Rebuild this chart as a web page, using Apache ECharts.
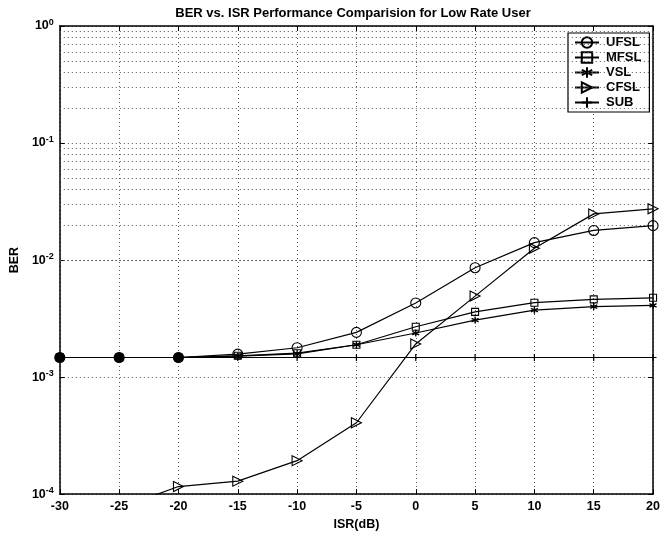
<!DOCTYPE html>
<html>
<head>
<meta charset="utf-8">
<script src="https://cdn.jsdelivr.net/npm/echarts@6/dist/echarts.min.js"></script>
<style>html,body{margin:0;padding:0;background:#fff}#c{width:663px;height:536px}</style>
</head>
<body>
<div id="c"></div>
<script>
const isr  = [-30, -25, -20, -15, -10, -5, 0, 5, 10, 15, 20];
const ufsl = [1.47e-3, 1.47e-3, 1.47e-3, 1.57e-3, 1.78e-3, 2.41e-3, 4.3e-3, 8.6e-3, 1.41e-2, 1.79e-2, 1.97e-2];
const mfsl = [1.47e-3, 1.47e-3, 1.47e-3, 1.52e-3, 1.6e-3, 1.89e-3, 2.69e-3, 3.61e-3, 4.32e-3, 4.61e-3, 4.76e-3];
const vsl  = [1.47e-3, 1.47e-3, 1.47e-3, 1.51e-3, 1.58e-3, 1.89e-3, 2.38e-3, 3.07e-3, 3.73e-3, 4.0e-3, 4.1e-3];
const cfsl = [6.0e-5, 7.6e-5, 1.16e-4, 1.29e-4, 1.93e-4, 4.07e-4, 1.92e-3, 4.92e-3, 1.26e-2, 2.48e-2, 2.74e-2];
const sub  = [1.47e-3, 1.47e-3, 1.47e-3, 1.47e-3, 1.47e-3, 1.47e-3, 1.47e-3, 1.47e-3, 1.47e-3, 1.47e-3, 1.47e-3];
const xTicks = [-30, -25, -20, -15, -10, -5, 0, 5, 10, 15, 20];
const yDecades = [1e-4, 1e-3, 1e-2, 1e-1, 1];
const minorMult = [2, 3, 4, 5, 6, 7, 8, 9];

const FONT = 'Liberation Sans';
const minorGrid = [];
yDecades.slice(0, -1).forEach(d => minorMult.forEach(m => minorGrid.push({ yAxis: d * m })));

const pair = arr => arr.map((v, i) => [isr[i], v]);
const gridLine = { color: '#555', width: 1, type: [1, 3] };
const hollow = { color: 'rgba(0,0,0,0)', borderColor: '#000', borderWidth: 1.1 };
const axLine = { show: true, onZero: false, lineStyle: { color: '#000', width: 1.5 } };
const axTick = { show: true, inside: true, length: 5, lineStyle: { color: '#000' } };

function mk(name, arr, symbol, size, extra) {
  return Object.assign({
    name, type: 'line', data: pair(arr), symbol, symbolSize: size,
    showAllSymbol: true, clip: true, z: 5,
    lineStyle: { color: '#000', width: 1.2 },
    itemStyle: hollow,
    emphasis: { disabled: true }
  }, extra || {});
}

const ufslData = ufsl.map((v, i) => v === sub[i]
  ? { value: [isr[i], v], itemStyle: { color: '#000', borderColor: '#000' } }
  : [isr[i], v]);

const starPath = 'path://M5,0L5,10M0.67,2.5L9.33,7.5M0.67,7.5L9.33,2.5';
const triPath = 'path://M0,0L10,5L0,10Z';
const plusPath = 'path://M5,0L5,10M0,5L10,5';

const chart = echarts.init(document.getElementById('c'), null, { renderer: 'canvas' });
chart.setOption({
  animation: false,
  backgroundColor: '#fff',
  title: {
    text: 'BER vs. ISR Performance Comparision for Low Rate User',
    left: 348, top: 2, textAlign: 'center',
    textStyle: { fontFamily: FONT, fontSize: 13, fontWeight: 'bold', color: '#000' }
  },
  legend: {
    orient: 'vertical', left: 568, top: 33,
    backgroundColor: '#fff', borderColor: '#000', borderWidth: 1.2,
    padding: [3, 8, 3, 6], itemGap: 2, itemWidth: 24, itemHeight: 13,
    textStyle: { fontFamily: FONT, fontSize: 13, fontWeight: 'bold', color: '#000', padding: [0, 0, 0, 2] },
    data: ['UFSL', 'MFSL', 'VSL', 'CFSL', 'SUB']
  },
  grid: { left: 56, right: 7, top: 26, bottom: 37, containLabel: false },
  xAxis: [{
    type: 'value', min: -30, max: 20, interval: 5,
    name: 'ISR(dB)', nameLocation: 'middle', nameGap: 21,
    nameTextStyle: { fontFamily: FONT, fontSize: 12.5, fontWeight: 'bold', color: '#000' },
    axisLine: axLine, axisTick: axTick,
    axisLabel: { fontFamily: FONT, fontSize: 12.5, fontWeight: 'bold', color: '#000', margin: 6 },
    splitLine: { show: true, lineStyle: gridLine }
  }, {
    type: 'value', min: -30, max: 20, interval: 5, position: 'top',
    axisLine: axLine, axisTick: axTick,
    axisLabel: { show: false }, splitLine: { show: false }
  }],
  yAxis: [{
    type: 'log', logBase: 10, min: 1e-4, max: 1,
    name: 'BER', nameLocation: 'middle', nameGap: 38, nameRotate: 90,
    nameTextStyle: { fontFamily: FONT, fontSize: 12.5, fontWeight: 'bold', color: '#000' },
    axisLine: axLine, axisTick: axTick,
    axisLabel: {
      margin: 6,
      formatter: v => '{b|10}{s|' + Math.round(Math.log10(v)) + '}',
      rich: {
        b: { fontFamily: FONT, fontSize: 12.5, fontWeight: 'bold', color: '#000' },
        s: { fontFamily: FONT, fontSize: 9, fontWeight: 'bold', color: '#000', verticalAlign: 'top', padding: [0, 0, 7, 0] }
      }
    },
    splitLine: { show: true, lineStyle: gridLine }
  }, {
    type: 'log', logBase: 10, min: 1e-4, max: 1, position: 'right',
    axisLine: axLine, axisTick: axTick,
    axisLabel: { show: false }, splitLine: { show: false }
  }],
  series: [
    Object.assign(mk('UFSL', ufsl, 'circle', 10), { data: ufslData }),
    mk('MFSL', mfsl, 'rect', 7),
    mk('VSL', vsl, starPath, 7, { itemStyle: { color: 'rgba(0,0,0,0)', borderColor: '#000', borderWidth: 1.4 } }),
    mk('CFSL', cfsl, triPath, 10),
    mk('SUB', sub, plusPath, 7, {
      itemStyle: { color: 'rgba(0,0,0,0)', borderColor: '#000', borderWidth: 1.2 },
      markLine: {
        silent: true, symbol: 'none', animation: false,
        label: { show: false },
        lineStyle: gridLine,
        emphasis: { disabled: true },
        data: minorGrid
      }
    })
  ]
});
</script>
</body>
</html>
